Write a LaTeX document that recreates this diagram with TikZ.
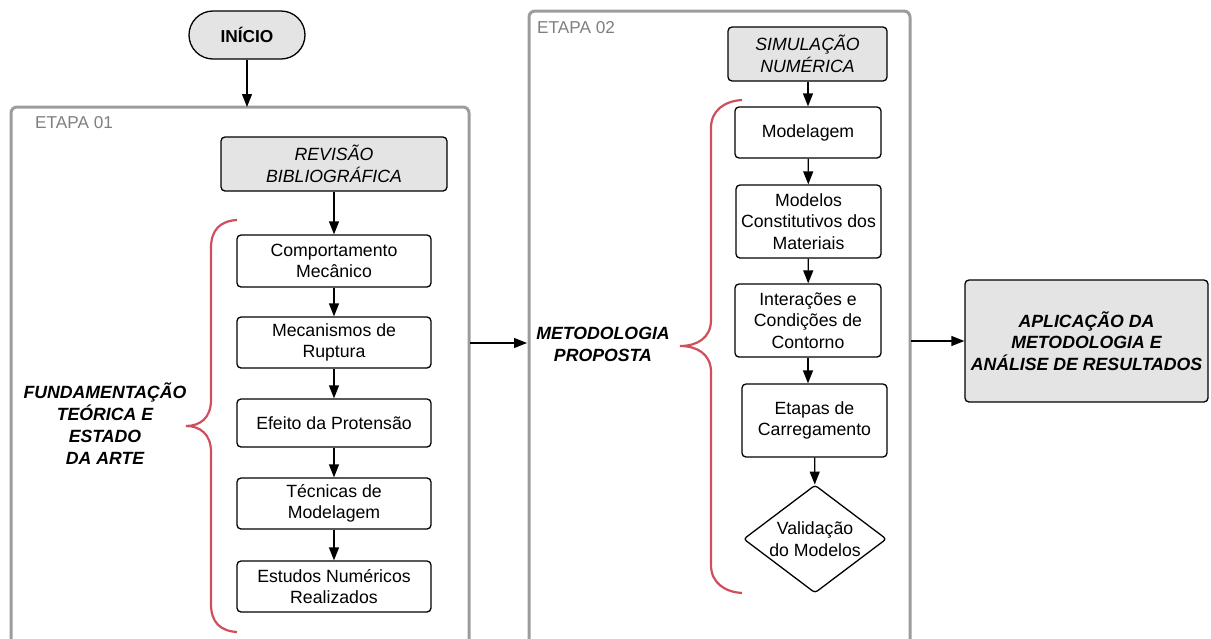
\documentclass[tikz,border=0pt]{standalone}
\usepackage{fontspec}
\setmainfont{Liberation Sans}
\usetikzlibrary{arrows.meta,shapes.geometric,shapes.misc}
\definecolor{boxgray}{HTML}{E4E4E4}
\definecolor{framegray}{HTML}{9C9C9C}
\definecolor{labelgray}{HTML}{7F7F7F}
\definecolor{bracered}{HTML}{D04F5E}
\begin{document}
\begin{tikzpicture}[x=1pt,y=-1pt,
  txt/.style={font=\fontsize{17.7}{21.5}\selectfont},
  stepbox/.style={draw, line width=1.3pt, rounded corners=4pt, align=center, inner sep=0pt, txt},
  graybox/.style={stepbox, fill=boxgray},
  frame/.style={draw=framegray, line width=3pt, rounded corners=6pt},
  flow/.style={line width=1.3pt, -{Triangle[length=13pt,width=10pt]}},
  brace/.style={draw=bracered, line width=2.2pt},
  etlabel/.style={anchor=west, text=labelgray, font=\fontsize{17.2}{20}\selectfont, inner sep=0pt},
  bigtxt/.style={align=center, font=\fontsize{17.7}{22}\selectfont\bfseries\itshape, inner sep=0pt}]
\useasboundingbox (0,0) rectangle (1211,638);
\begin{scope}
\clip (0,0) rectangle (1211,638);
\draw[frame] (11,107) rectangle (469,680);
\draw[frame] (529,11) rectangle (910,680);
\end{scope}
\coordinate (e1top) at (247,107);
\coordinate (e1r) at (470,343);
\coordinate (e2l) at (527,343);
\coordinate (e2r) at (911,341);
\node[etlabel] (et1) at (35,123) {ETAPA 01};
\node[etlabel] (et2) at (537,28) {ETAPA 02};

\node[draw, fill=boxgray, line width=1.3pt, rounded rectangle, minimum width=116pt, minimum height=48pt, inner sep=0pt, font=\fontsize{17.3}{20}\selectfont\bfseries] (ini) at (247,35) {INÍCIO};

\node[graybox, minimum width=226pt, minimum height=54pt, font=\fontsize{17.7}{21.5}\selectfont\itshape] (rev) at (334,164) {REVISÃO\\BIBLIOGRÁFICA};
\node[stepbox, minimum width=194pt, minimum height=52pt] (b1) at (334,261) {Comportamento\\Mecânico};
\node[stepbox, minimum width=194pt, minimum height=51pt] (b2) at (334,342.5) {Mecanismos de\\Ruptura};
\node[stepbox, minimum width=194pt, minimum height=48pt] (b3) at (334,423) {Efeito da Protensão};
\node[stepbox, minimum width=194pt, minimum height=51pt] (b4) at (334,503.5) {Técnicas de\\Modelagem};
\node[stepbox, minimum width=194pt, minimum height=51pt] (b5) at (334,586.5) {Estudos Numéricos\\Realizados};

\node[graybox, minimum width=159pt, minimum height=54pt, font=\fontsize{17.7}{21.5}\selectfont\itshape] (sim) at (807.5,54) {SIMULAÇÃO\\NUMÉRICA};
\node[stepbox, minimum width=146pt, minimum height=51pt] (m1) at (808,132.5) {Modelagem};
\node[stepbox, minimum width=145pt, minimum height=73pt] (m2) at (808.5,221.5) {Modelos\\Constitutivos dos\\Materiais};
\node[stepbox, minimum width=146pt, minimum height=73pt] (m3) at (808,320.5) {Interações e\\Condições de\\Contorno};
\node[stepbox, minimum width=145pt, minimum height=73pt] (m4) at (814.5,420.5) {Etapas de\\Carregamento};
\node[diamond, draw, line width=1.3pt, rounded corners=3pt, aspect=1.32, inner sep=0pt, minimum width=143pt, minimum height=108pt,
  label={[txt, align=center]center:Validação\\do Modelos}] (val) at (815,539) {};

\node[graybox, minimum width=243pt, minimum height=122pt, font=\fontsize{17.7}{21.5}\selectfont\bfseries\itshape] (apl) at (1086.5,341) {APLICAÇÃO DA\\METODOLOGIA E\\ANÁLISE DE RESULTADOS};

\node[bigtxt] (fund) at (105,424) {FUNDAMENTAÇÃO\\TEÓRICA E\\ESTADO\\DA ARTE};
\node[bigtxt] (meto) at (603,344) {METODOLOGIA\\PROPOSTA};

\draw[brace] (237,220) .. controls (220,221) and (211,230) .. (211,248) -- (211,400)
  .. controls (211,418) and (200,426) .. (186,426)
  .. controls (200,426) and (211,434) .. (211,452) -- (211,604)
  .. controls (211,622) and (220,631) .. (237,632);
\draw[brace] (742,100) .. controls (725,101) and (711,110) .. (711,128) -- (711,320)
  .. controls (711,338) and (697,346) .. (680,346)
  .. controls (697,346) and (711,354) .. (711,372) -- (711,565)
  .. controls (711,583) and (725,592) .. (742,593);

\draw[flow] (ini) -- (e1top);
\draw[flow] (rev) -- (b1);
\draw[flow] (b1) -- (b2);
\draw[flow] (b2) -- (b3);
\draw[flow] (b3) -- (b4);
\draw[flow] (b4) -- (b5);
\draw[flow] (sim.south -| m1) -- (m1);
\draw[flow] (m1) -- (m2);
\draw[flow] (m2) -- (m3);
\draw[flow] (m3.south) -- (m3.south |- m4.north);
\draw[flow] (m4) -- (val);
\draw[flow] (e1r) -- (e2l);
\draw[flow] (e2r) -- (apl);
\end{tikzpicture}
\end{document}
